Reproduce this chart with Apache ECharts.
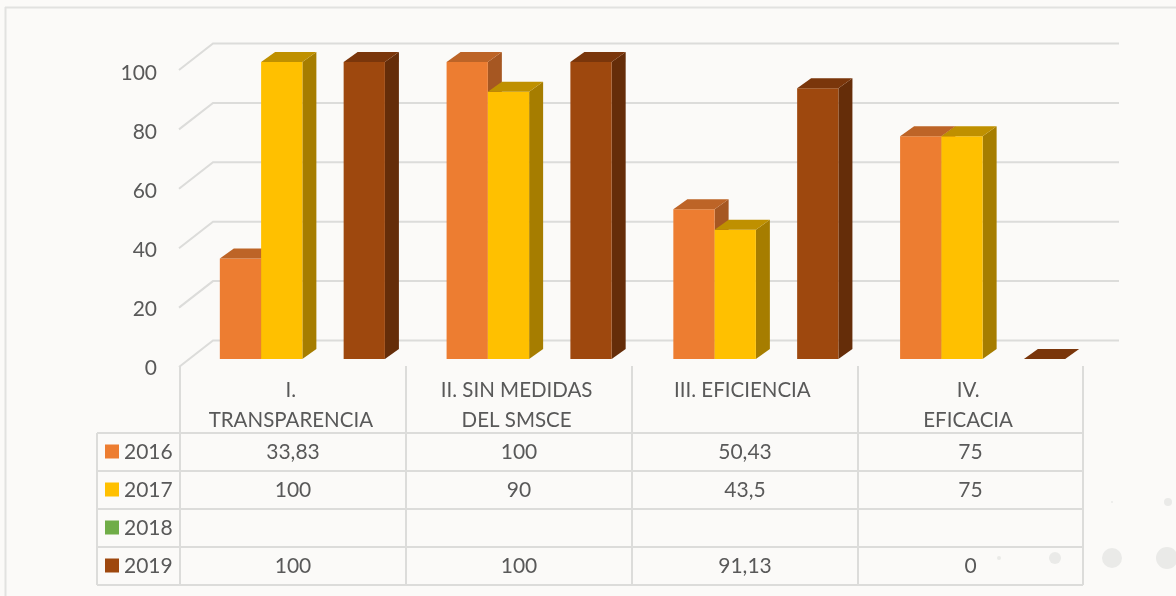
<!DOCTYPE html>
<html>
<head>
<meta charset="utf-8">
<style>
  html, body { margin: 0; padding: 0; background: #fbfaf8; }
  #main { width: 1176px; height: 596px; }
</style>
<script src="https://cdn.jsdelivr.net/npm/echarts@6/dist/echarts.min.js"></script>
</head>
<body>
<div id="main"></div>
<script>
const categories = ['I.\nTRANSPARENCIA', 'II. SIN MEDIDAS\nDEL SMSCE', 'III. EFICIENCIA', 'IV.\nEFICACIA'];
const years = ['2016', '2017', '2018', '2019'];
const values2016 = [33.83, 100, 50.43, 75];
const values2017 = [100, 90, 43.5, 75];
const values2018 = [null, null, null, null];
const values2019 = [100, 100, 91.13, 0];
const yTicks = [0, 20, 40, 60, 80, 100];

const allValues = [values2016, values2017, values2018, values2019];
// front, top, side
const colors = [
  ['#ed7d31', '#bd6427', '#a65722'],
  ['#ffc000', '#bf9000', '#a67d00'],
  ['#70ad47', '#5a8a39', '#4e7932'],
  ['#9e480e', '#7a360b', '#652d09']
];

const textColor = '#595959';
const lineColor = '#dcdcda';
const font = 'Lato';

const chart = echarts.init(document.getElementById('main'));

// barras con caja 3D
function renderBar(k) {
  return function (params, api) {
    const v = allValues[k][params.dataIndex];
    if (v === null) return null;
    const i = api.value(0);
    const band = api.size([1, 0])[0];
    const w = band * 0.182;
    const base = api.coord([i, 0]);
    const top = api.coord([i, v]);
    const x0 = base[0] + (k - 2) * w;
    const x1 = x0 + w;
    const y0 = base[1];
    const y1 = top[1];
    const dx = 14, dy = -10;
    const c = colors[k];
    const children = [];
    if (v > 0) {
      children.push({
        type: 'polygon',
        shape: { points: [[x1, y0], [x1 + dx, y0 + dy], [x1 + dx, y1 + dy], [x1, y1]] },
        style: { fill: c[2] }
      });
      children.push({
        type: 'rect',
        shape: { x: x0, y: y1, width: w, height: y0 - y1 },
        style: { fill: c[0] }
      });
    }
    children.push({
      type: 'polygon',
      shape: { points: [[x0, y1], [x0 + dx, y1 + dy], [x1 + dx, y1 + dy], [x1, y1]] },
      style: { fill: c[1] }
    });
    return { type: 'group', children: children };
  };
}

// lineas de la pared del fondo, desplazadas desde el plano de las barras
function renderWall(params, api) {
  const p = api.coord([0, api.value(0)]);
  const left = params.coordSys.x;
  const right = left + params.coordSys.width;
  return {
    type: 'polyline',
    shape: { points: [[left - 10, p[1] + 8], [left + 24, p[1] - 18.5], [right + 23, p[1] - 18.5]] },
    style: { fill: 'none', stroke: lineColor, lineWidth: 2 }
  };
}

// tabla de datos
const colX = [97, 180, 406, 632, 858, 1083];
const rowY = [433, 471, 509, 547, 585];
const tableLines = [];
rowY.forEach(function (y) {
  tableLines.push([colX[0], y, colX[5], y]);
});
colX.forEach(function (x, j) {
  tableLines.push([x, j === 0 ? rowY[0] : 366, x, rowY[4]]);
});

const graphics = [
  // marco
  { type: 'line', shape: { x1: 5, y1: 7.5, x2: 1176, y2: 7.5 }, style: { stroke: '#e2e2e0', lineWidth: 2 } },
  { type: 'line', shape: { x1: 5.5, y1: 7, x2: 5.5, y2: 596 }, style: { stroke: '#e2e2e0', lineWidth: 2 } }
];
// puntos decorativos
[[1168, 502, 4], [1112, 502, 1], [1112, 558, 10], [1167, 558, 11], [1055, 558, 6], [999, 558, 2]].forEach(function (d) {
  graphics.push({ type: 'circle', shape: { cx: d[0], cy: d[1], r: d[2] }, style: { fill: '#eaeae8' } });
});
tableLines.forEach(function (l) {
  graphics.push({
    type: 'line',
    shape: { x1: l[0], y1: l[1], x2: l[2], y2: l[3] },
    style: { stroke: lineColor, lineWidth: 2 }
  });
});
years.forEach(function (year, r) {
  const cy = (rowY[r] + rowY[r + 1]) / 2;
  graphics.push({
    type: 'rect',
    shape: { x: 105, y: cy - 7.5, width: 14, height: 14 },
    style: { fill: colors[r][0] }
  });
  graphics.push({
    type: 'text',
    x: 124, y: cy,
    style: { text: year, font: '21px ' + font, fill: textColor, textVerticalAlign: 'middle' }
  });
  allValues[r].forEach(function (v, c) {
    if (v === null) return;
    graphics.push({
      type: 'text',
      x: (colX[c + 1] + colX[c + 2]) / 2, y: cy + 0.5,
      style: {
        text: String(v).replace('.', ','),
        font: '21px ' + font,
        fill: textColor,
        textAlign: 'center',
        textVerticalAlign: 'middle'
      }
    });
  });
});

const option = {
  backgroundColor: '#fbfaf8',
  animation: false,
  grid: [
    { left: 180, top: 73, width: 903, height: 295 },
    { left: 189, top: 62, width: 907, height: 297 }
  ],
  xAxis: [
    {
      type: 'category',
      gridIndex: 0,
      data: categories,
      axisLine: { show: false },
      axisTick: { show: false },
      axisLabel: {
        interval: 0,
        margin: 7,
        padding: [0, 4, 0, 0],
        color: textColor,
        fontFamily: font,
        fontSize: 20.5,
        lineHeight: 30,
        verticalAlign: 'top'
      }
    },
    { type: 'category', gridIndex: 1, data: categories, show: false }
  ],
  yAxis: [
    {
      type: 'value',
      gridIndex: 0,
      min: 0,
      max: 100,
      interval: 20,
      axisLine: { show: false },
      axisTick: { show: false },
      splitLine: { show: false },
      axisLabel: { margin: 23, color: textColor, fontFamily: font, fontSize: 21 }
    },
    { type: 'value', gridIndex: 1, min: 0, max: 100, interval: 20, show: false, splitLine: { show: false } }
  ],
  graphic: graphics,
  series: [
    {
      type: 'custom',
      name: 'wall',
      xAxisIndex: 1,
      yAxisIndex: 1,
      z: 1,
      silent: true,
      renderItem: renderWall,
      encode: { y: 0 },
      data: yTicks.map(function (t) { return [t]; })
    }
  ].concat(years.map(function (year, k) {
    return {
      type: 'custom',
      name: year,
      xAxisIndex: 1,
      yAxisIndex: 1,
      z: 2 + k,
      renderItem: renderBar(k),
      encode: { x: 0, y: 1 },
      data: allValues[k].map(function (v, i) { return [i, v === null ? 0 : v]; })
    };
  }))
};

chart.setOption(option);
</script>
</body>
</html>
